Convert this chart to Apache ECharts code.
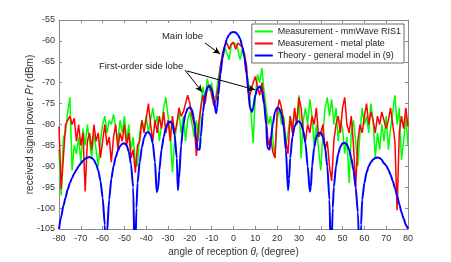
<!DOCTYPE html>
<html><head><meta charset="utf-8">
<script src="https://cdn.jsdelivr.net/npm/echarts@6/dist/echarts.min.js"></script>
<style>html,body{margin:0;padding:0;background:#fff}#c{width:451px;height:262px}</style>
</head><body><div id="c"></div>
<script>
const angles = [-80,-79,-78,-77,-76,-75,-74,-73,-72,-71,-70,-69,-68,-67,-66,-65,-64,-63,-62,-61,-60,-59,-58,-57,-56,-55,-54,-53,-52,-51,-50,-49,-48,-47,-46,-45,-44,-43,-42,-41,-40,-39,-38,-37,-36,-35,-34,-33,-32,-31,-30,-29,-28,-27,-26,-25,-24,-23,-22,-21,-20,-19,-18,-17,-16,-15,-14,-13,-12,-11,-10,-9,-8,-7,-6,-5,-4,-3,-2,-1,0,1,2,3,4,5,6,7,8,9,10,11,12,13,14,15,16,17,18,19,20,21,22,23,24,25,26,27,28,29,30,31,32,33,34,35,36,37,38,39,40,41,42,43,44,45,46,47,48,49,50,51,52,53,54,55,56,57,58,59,60,61,62,63,64,65,66,67,68,69,70,71,72,73,74,75,76,77,78,79,80];
const ris1 = [-86,-97,-83,-82,-77,-73.5,-91,-85,-87,-83,-89,-81,-85,-80,-84,-88,-82,-86,-90,-84,-80,-78,-82,-79,-80,-77.5,-81,-84,-79,-82,-78,-84,-80,-86,-83,-89,-90,-82,-79,-81,-78,-82,-79,-76,-80,-78,-84,-80,-76,-73.5,-78,-82,-91.5,-84,-80,-77,-82,-78,-84,-79,-77,-80,-83,-79,-84,-76,-71,-74,-69,-72,-70,-74,-73,-69,-66,-64,-61.5,-63,-64.5,-61,-60.5,-60.8,-62,-64.5,-62,-63.5,-67,-71,-77,-84.5,-73,-68,-70,-66.5,-72,-76,-80,-78,-83,-88,-79,-76,-80,-78,-85,-82,-78,-81,-77,-80,-73,-88,-79,-76,-80,-74,-78,-85,-80,-86,-91,-82,-76,-73.5,-78,-74,-80,-76,-84,-79,-81,-87,-83,-94,-82,-79,-84,-90,-82,-76,-80,-78,-82,-75,-79,-88,-82,-86,-80,-84,-78,-86,-81,-77,-73,-80,-76,-88.5,-84,-78,-85];
const metal = [-80.5,-95.5,-88,-80,-79,-78,-80,-78.5,-84,-80,-85,-82,-96,-84,-82,-86,-80,-84,-82,-88,-84,-80,-85,-83,-89,-83,-80,-86,-82,-84,-80,-85,-82,-88,-86,-91.5,-85,-84,-79,-82,-78.5,-75,-80,-84,-79,-82,-78,-81,-77,-82,-79,-84,-78,-82,-80,-76,-78,-77,-75,-73,-75,-78,-80,-87.5,-80,-76,-73,-75,-71,-70.5,-73,-75.5,-74,-71,-66,-63,-61,-60.5,-62,-60.7,-60.3,-62,-60.5,-61,-61.5,-63,-66,-74,-72,-70,-68.5,-71,-73,-70,-74,-79,-85,-83,-86.5,-88,-77,-74,-76,-79,-84,-87,-78,-82,-76,-80,-73.5,-76,-82,-84,-80,-82,-78,-80,-76,-83,-82,-80,-86,-84,-90,-93.5,-84,-80,-78,-82,-76,-73.5,-80,-82,-78,-85,-95,-84,-80,-82,-78,-75,-80,-77,-79,-82,-78,-80,-77,-79,-81,-79,-76,-80,-84,-100.5,-82,-78,-81,-76,-80.5];
const theoryAngles = [-80,-79,-78,-77,-76,-75,-74,-73,-72,-71,-70,-69,-68,-67,-66,-65,-64,-63,-62,-61,-60,-59,-58.5,-58,-57,-56,-55,-54,-53,-52,-51,-50,-49,-48,-47,-46,-45.2,-44.5,-44,-43,-42,-41,-40,-39,-38,-37,-36,-35.2,-34.5,-34,-33,-32,-31,-30,-29,-28,-27,-26,-25.5,-25,-24,-23,-22,-21,-20,-19,-18,-17,-16.5,-15.5,-15,-14,-13,-12,-11,-10,-9,-8,-7.5,-7,-6,-5,-4,-3,-2,-1,0,1,2,3,4,5,6,7,7.5,8.5,9,10,11,12,13,14,15,15.5,16.5,17,18,19,20,21,22,23,24,25,25.5,26,27,28,29,30,31,32,33,34,35,35.5,36,37,38,39,40,41,42,43,44,44.7,45.5,46,47,48,49,50,51,52,53,54,55,56,57,58,58.5,59,60,61,62,63,64,65,66,67,68,69,70,71,72,73,74,75,76,77,78,79,80];
const theory = [-105,-102,-99.5,-97.5,-95.5,-94,-92.8,-91.7,-90.8,-90,-89.3,-88.7,-88.2,-87.9,-87.8,-88,-88.5,-89.5,-91,-93.5,-97.5,-104,-115,-106,-98,-93,-90,-87.8,-86.3,-85.2,-84.6,-84.5,-85,-86.5,-89.5,-95,-115,-100,-94,-89,-85.5,-83.2,-82,-81.8,-82.5,-84.5,-89,-96.2,-95,-91,-86,-83,-80.8,-79.6,-79.3,-80,-82.5,-88,-95.7,-93,-85,-80,-77.5,-76.2,-75.9,-76.5,-79,-84,-86,-86,-83,-77,-73,-71.2,-70.8,-71.5,-74,-77.3,-76,-73,-68,-64,-61.3,-59.5,-58.5,-58,-57.9,-58,-58.5,-59.5,-61.3,-64,-68,-73,-76,-77,-76,-73,-71.3,-70.9,-71.8,-75,-80,-85.5,-86,-84,-80,-77,-76,-76.2,-77.5,-80.5,-86,-95.7,-93,-88,-83,-80.5,-79.4,-79.2,-79.8,-81.5,-84.5,-90,-96,-95,-90,-85.5,-83,-82,-82,-83,-85.5,-90,-98,-115,-100,-95,-90,-87,-85.3,-84.5,-84.4,-84.8,-86,-88,-91,-95,-101,-115,-104,-98,-94,-91.5,-90,-89,-88.4,-88,-87.9,-88,-88.5,-89.3,-89.8,-90.8,-92,-93.5,-95.2,-97,-99,-101,-102.5,-104,-105];
const xTicks = {min: -80, max: 80, step: 10};
const yTicks = {min: -105, max: -55, step: 5};
const seriesNames = ['Measurement - mmWave RIS1', 'Measurement - metal plate', 'Theory - general model in (9)'];
const annotations = [
  {text: 'Main lobe', at: [-32.8, -58.8]},
  {text: 'First-order side lobe', at: [-61.7, -66]}
];
const arrows = [
  [[-13.1, -60.5], [-6.2, -63.1]],
  [[-22.2, -67.0], [-14.4, -72.2]],
  [[-21.3, -67.2], [9.9, -71.7]]
];

const FONT = 'Liberation Sans, Arial, Helvetica, sans-serif';
const TXT = '#333';
const pairs = (xs, ys) => xs.map((x, i) => [x, ys[i]]);
const chart = echarts.init(document.getElementById('c'), null, {renderer: 'canvas'});
const axisLine = {show: true, onZero: false, lineStyle: {color: '#8a8a8a', width: 1}};
const axisTick = {show: true, inside: true, length: 3, lineStyle: {color: '#8a8a8a'}};
const labelStyle = {color: TXT, fontSize: 9, fontFamily: FONT};
const lineSeries = (name, data, color, width, z) => ({
  name, type: 'line', data, showSymbol: false, symbol: 'none', z,
  lineStyle: {color, width}, itemStyle: {color}, clip: true
});
chart.setOption({
  animation: false,
  backgroundColor: '#fff',
  grid: {left: 59, right: 43, top: 20, bottom: 33, containLabel: false, outerBoundsMode: 'none'},
  xAxis: [{
    type: 'value', min: xTicks.min, max: xTicks.max, interval: xTicks.step,
    axisLine, axisTick, splitLine: {show: false},
    axisLabel: Object.assign({margin: 5}, labelStyle),
    name: '{a|angle of reception }{b|θ}{s|r}{a| (degree)}',
    nameLocation: 'middle', nameGap: 16, nameMoveOverlap: false,
    nameTextStyle: {rich: {
      a: {fontSize: 10, color: TXT, fontFamily: FONT, verticalAlign: 'middle', lineHeight: 14},
      b: {fontSize: 10, color: TXT, fontFamily: FONT, fontStyle: 'italic', verticalAlign: 'middle', lineHeight: 14},
      s: {fontSize: 6.5, color: TXT, fontFamily: FONT, fontStyle: 'italic', verticalAlign: 'bottom', lineHeight: 14}
    }}
  }, {
    type: 'value', position: 'top', min: xTicks.min, max: xTicks.max, interval: xTicks.step,
    axisLine, axisTick, axisLabel: {show: false}, splitLine: {show: false}
  }],
  yAxis: [{
    type: 'value', min: yTicks.min, max: yTicks.max, interval: yTicks.step,
    axisLine, axisTick, splitLine: {show: false},
    axisLabel: Object.assign({margin: 4}, labelStyle),
    name: '{a|received signal power }{b|Pr}{a| (dBm)}',
    nameLocation: 'middle', nameGap: 24, nameMoveOverlap: false,
    nameTextStyle: {rich: {
      a: {fontSize: 10, color: TXT, fontFamily: FONT},
      b: {fontSize: 10, color: TXT, fontFamily: FONT, fontStyle: 'italic'}
    }}
  }, {
    type: 'value', position: 'right', min: yTicks.min, max: yTicks.max, interval: yTicks.step,
    axisLine, axisTick, axisLabel: {show: false}, splitLine: {show: false}
  }],
  legend: {
    orient: 'vertical', right: 47, top: 24,
    icon: 'rect', itemWidth: 18, itemHeight: 2, itemGap: 1,
    padding: [2, 3, 2, 3],
    backgroundColor: '#fff', borderColor: '#444', borderWidth: 0.8,
    textStyle: {fontSize: 9, color: '#222', fontFamily: FONT, lineHeight: 11},
    data: seriesNames
  },
  series: [
    lineSeries(seriesNames[0], pairs(angles, ris1), '#00ff00', 1.5, 2),
    lineSeries(seriesNames[1], pairs(angles, metal), '#ff0000', 1.5, 3),
    Object.assign(lineSeries(seriesNames[2], pairs(theoryAngles, theory), '#0000ff', 2, 4), {
      smooth: 0.25, smoothMonotone: 'x',
      markLine: {
        silent: true, symbol: ['none', 'arrow'], symbolSize: [5, 7],
        lineStyle: {color: '#000', width: 1, type: 'solid'}, label: {show: false},
        data: arrows.map(a => [{coord: a[0]}, {coord: a[1]}])
      }
    })
  ]
});
const g = annotations.map(a => {
  const p = chart.convertToPixel({xAxisIndex: 0, yAxisIndex: 0}, a.at);
  return {type: 'text', x: p[0], y: p[1], z: 10,
    style: {text: a.text, fill: '#222', font: '9.5px ' + FONT, textAlign: 'left', textVerticalAlign: 'middle'}};
});
chart.setOption({graphic: g});
</script></body></html>
